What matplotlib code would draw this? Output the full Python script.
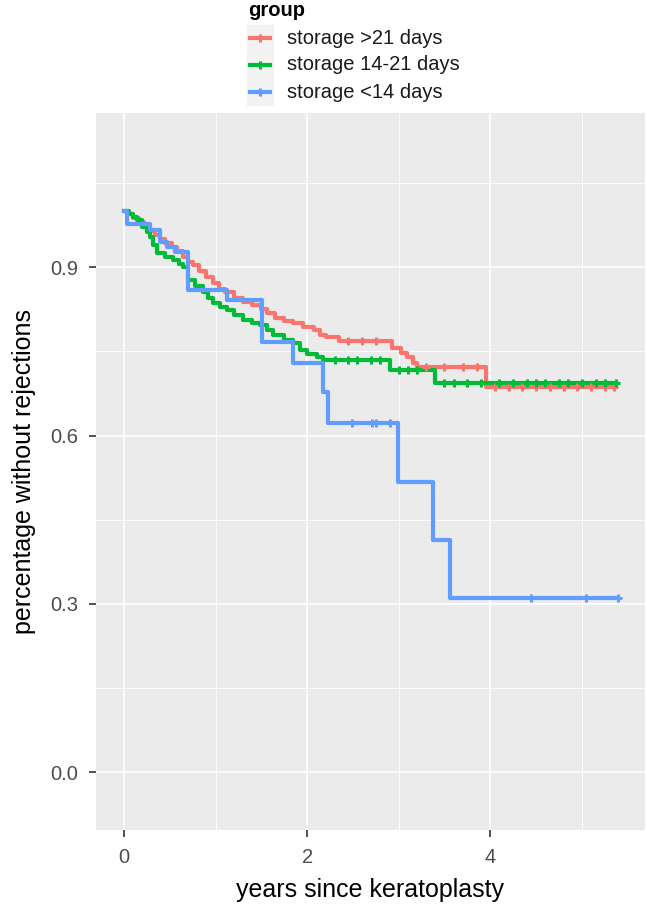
import matplotlib.pyplot as plt
import numpy as np
from matplotlib.lines import Line2D
from matplotlib.patches import Rectangle

plt.rcParams['font.family'] = ['Liberation Sans', 'DejaVu Sans']

# Data (Kaplan-Meier steps)
groups = ['storage >21 days', 'storage 14-21 days', 'storage <14 days']
colors = ['#F8766D', '#00BA38', '#619CFF']

t_long = [0, 0.04, 0.10, 0.16, 0.22, 0.28, 0.34, 0.39, 0.45, 0.52, 0.58, 0.64,
          0.70, 0.75, 0.82, 0.90, 0.97, 1.04, 1.10, 1.20, 1.30, 1.40, 1.50, 1.56,
          1.65, 1.75, 1.85, 1.95, 2.07, 2.14, 2.21, 2.35, 2.93, 3.02, 3.09, 3.16,
          3.20, 3.95, 5.35]
s_long = [1.0, 0.995, 0.988, 0.980, 0.972, 0.964, 0.957, 0.950, 0.943, 0.936,
          0.929, 0.918, 0.910, 0.904, 0.893, 0.882, 0.872, 0.862, 0.856, 0.846,
          0.838, 0.832, 0.825, 0.818, 0.810, 0.804, 0.800, 0.794, 0.788, 0.780,
          0.775, 0.768, 0.757, 0.748, 0.740, 0.729, 0.722, 0.686, 0.686]
c_long = [2.45, 2.6, 2.75, 3.3, 3.5, 3.7, 3.85, 4.05, 4.2, 4.35, 4.5, 4.65,
          4.8, 4.95, 5.1, 5.25, 5.35]

t_mid = [0, 0.05, 0.10, 0.14, 0.20, 0.25, 0.28, 0.32, 0.36, 0.45, 0.54, 0.60,
         0.64, 0.70, 0.78, 0.86, 0.92, 0.97, 1.05, 1.12, 1.20, 1.30, 1.40, 1.49,
         1.56, 1.63, 1.75, 1.85, 1.92, 2.00, 2.11, 2.17, 2.91, 3.40, 5.37]
s_mid = [1.0, 0.995, 0.99, 0.984, 0.972, 0.962, 0.954, 0.940, 0.925, 0.918,
         0.913, 0.906, 0.900, 0.877, 0.866, 0.856, 0.845, 0.836, 0.830, 0.824,
         0.815, 0.806, 0.800, 0.797, 0.788, 0.779, 0.770, 0.765, 0.752, 0.745,
         0.740, 0.734, 0.717, 0.693, 0.693]
c_mid = [2.3, 2.45, 2.55, 2.7, 2.8, 3.0, 3.1, 3.2, 3.5, 3.6, 3.75, 3.9, 4.1,
         4.25, 4.4, 4.5, 4.6, 4.75, 4.85, 5.0, 5.15, 5.25, 5.37]

t_short = [0, 0.03, 0.28, 0.39, 0.47, 0.56, 0.70, 1.12, 1.51, 1.85, 2.17,
           2.23, 2.99, 3.37, 3.56, 5.40]
s_short = [1.0, 0.978, 0.966, 0.945, 0.936, 0.927, 0.859, 0.841, 0.766, 0.729,
           0.677, 0.622, 0.517, 0.414, 0.310, 0.310]
c_short = [2.49, 2.71, 2.75, 2.91, 4.45, 5.05, 5.40]

curves = [(t_long, s_long, c_long), (t_mid, s_mid, c_mid), (t_short, s_short, c_short)]

W, H = 647, 916
fig = plt.figure(figsize=(W / 100, H / 100), dpi=100)
ax = fig.add_axes([96 / W, 1 - 830 / H, (645 - 96) / W, (830 - 113) / H])
ax.set_facecolor('#EBEBEB')

for (t, s, c), col in zip(curves, colors):
    t = np.array(t)
    s = np.array(s)
    ax.step(t, s, where='post', color=col, lw=3, zorder=3)
    c = np.array(c)
    sc = s[np.searchsorted(t, c, side='right') - 1]
    ax.plot(c, sc, ls='none', marker='+', ms=5.5, mew=2.2, color=col, zorder=4)

ax.set_xlim(-0.306, 5.69)
ax.set_ylim(-0.103, 1.175)
ax.set_xticks([0, 2, 4])
ax.set_xticks([1, 3, 5], minor=True)
ax.set_yticks([0.0, 0.3, 0.6, 0.9])
ax.set_yticks([0.15, 0.45, 0.75, 1.05], minor=True)
ax.set_yticklabels(['0.0', '0.3', '0.6', '0.9'])
ax.grid(which='major', color='white', lw=1.2)
ax.grid(which='minor', color='white', lw=0.6)
ax.set_axisbelow(True)
for sp in ax.spines.values():
    sp.set_visible(False)
ax.tick_params(which='major', length=5, width=1.2, color='#333333',
               labelcolor='#4D4D4D', labelsize=14.5, pad=8)
ax.tick_params(which='minor', length=0)

ax.set_xlabel('years since keratoplasty', fontsize=18, labelpad=8)
ax.set_ylabel('percentage without rejections', fontsize=18, labelpad=10)

# Legend (ggplot style, drawn above the panel)
def fx(px):
    return px / W

def fy(py):
    return 1 - py / H

fig.text(fx(248), fy(11), 'group', fontsize=14.5, fontweight='bold', va='center', ha='left')
rows = [38, 65, 92]
for lab, col, yc in zip(groups, colors, rows):
    fig.patches.append(Rectangle((fx(247), fy(yc + 13)), 26 / W, 26 / H,
                                 transform=fig.transFigure, color='#F2F2F2', zorder=0))
    fig.lines.append(Line2D([fx(250), fx(270)], [fy(yc), fy(yc)], color=col, lw=3,
                            transform=fig.transFigure))
    fig.lines.append(Line2D([fx(260)], [fy(yc)], color=col, marker='+', ms=5.5, mew=2.2,
                            transform=fig.transFigure))
    fig.text(fx(287), fy(yc), lab, fontsize=14.5, va='center', ha='left', color='#1A1A1A')

fig.savefig('out.png', dpi=100)
